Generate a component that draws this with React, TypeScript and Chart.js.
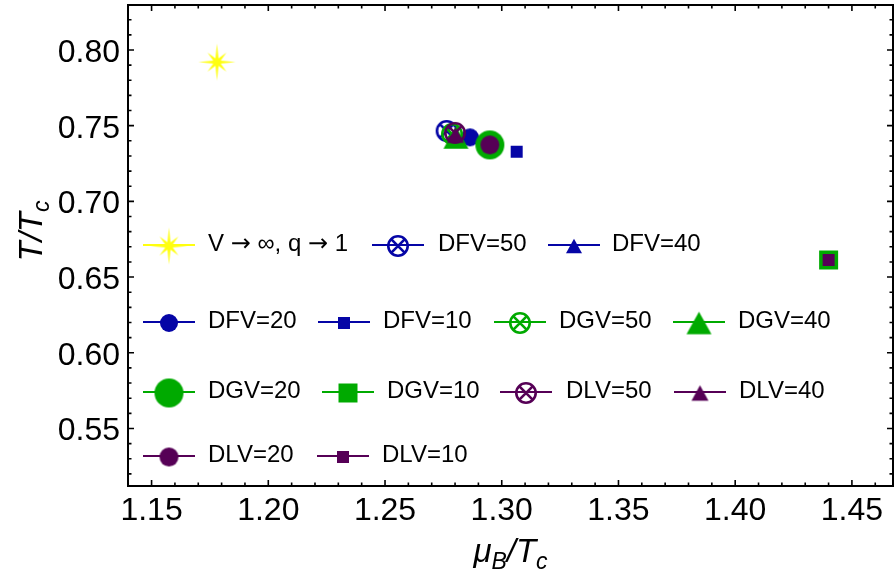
import React, { useEffect, useRef } from "react";
import { Chart, registerables } from "chart.js";

Chart.register(...registerables);

// ---- data ----
const seriesLabels = [
  "V → ∞, q → 1",
  "DFV=50",
  "DFV=40",
  "DFV=20",
  "DFV=10",
  "DGV=50",
  "DGV=40",
  "DGV=20",
  "DGV=10",
  "DLV=50",
  "DLV=40",
  "DLV=20",
  "DLV=10",
];
const muBValues = [1.178, 1.2764, 1.28, 1.2864, 1.3064, 1.2787, 1.2804, 1.2949, 1.44, 1.28, 1.2802, 1.2949, 1.44];
const tValues = [0.792, 0.7465, 0.7425, 0.7423, 0.7328, 0.7445, 0.7422, 0.7373, 0.6613, 0.7452, 0.7438, 0.7373, 0.6613];
const xTickValues = [1.15, 1.2, 1.25, 1.3, 1.35, 1.4, 1.45];
const yTickValues = [0.55, 0.6, 0.65, 0.7, 0.75, 0.8];

// ---- styles ----
const BLUE = "#0505a6";
const GREEN = "#00aa00";
const PURPLE = "#560056";
const YELLOW = "#ffff10";
const seriesColors = [YELLOW, BLUE, BLUE, BLUE, BLUE, GREEN, GREEN, GREEN, GREEN, PURPLE, PURPLE, PURPLE, PURPLE];
const seriesKinds = ["star", "circleX", "triangle", "circle", "square", "circleX", "triangle", "circle", "square", "circleX", "triangle", "circle", "square"];
const seriesSizes = [37, 22, 16, 18, 12, 22, 25, 29, 19, 22, 17, 19, 12];

const FONT = '"Liberation Sans", Arial, sans-serif';

function makeMarker(kind: string, size: number, color: string): HTMLCanvasElement {
  const pad = 4;
  const c = document.createElement("canvas");
  const dim = Math.ceil(size + pad * 2);
  c.width = dim;
  c.height = dim;
  const ctx = c.getContext("2d")!;
  const cx = dim / 2;
  const cy = dim / 2;
  ctx.fillStyle = color;
  ctx.strokeStyle = color;
  if (kind === "circle") {
    ctx.beginPath();
    ctx.arc(cx, cy, size / 2, 0, Math.PI * 2);
    ctx.fill();
  } else if (kind === "square") {
    ctx.fillRect(cx - size / 2, cy - size / 2, size, size);
  } else if (kind === "triangle") {
    const h = size * 0.9;
    ctx.beginPath();
    ctx.moveTo(cx, cy - h / 2);
    ctx.lineTo(cx + size / 2, cy + h / 2);
    ctx.lineTo(cx - size / 2, cy + h / 2);
    ctx.closePath();
    ctx.fill();
  } else if (kind === "circleX") {
    const lw = 2.6;
    const r = size / 2 - lw / 2;
    ctx.lineWidth = lw;
    ctx.beginPath();
    ctx.arc(cx, cy, r, 0, Math.PI * 2);
    ctx.stroke();
    const d = r * Math.SQRT1_2;
    ctx.beginPath();
    ctx.moveTo(cx - d, cy - d);
    ctx.lineTo(cx + d, cy + d);
    ctx.moveTo(cx + d, cy - d);
    ctx.lineTo(cx - d, cy + d);
    ctx.stroke();
  } else if (kind === "star") {
    const rLong = size / 2;
    const rShort = size * 0.36;
    const rIn = size * 0.11;
    ctx.beginPath();
    for (let i = 0; i < 16; i++) {
      const a = (i * Math.PI) / 8 - Math.PI / 2;
      let r: number;
      if (i % 2 === 1) r = rIn;
      else r = (i / 2) % 2 === 0 ? rLong : rShort;
      const x = cx + r * Math.cos(a);
      const y = cy + r * Math.sin(a);
      if (i === 0) ctx.moveTo(x, y);
      else ctx.lineTo(x, y);
    }
    ctx.closePath();
    ctx.fill();
  }
  return c;
}

// legend layout: rows of [dataset index, line start x, text x]
const legendRows: { y: number; items: [number, number, number][] }[] = [
  { y: 245, items: [[0, 143, 208], [1, 372, 438], [2, 548, 612]] },
  { y: 322, items: [[3, 143, 208], [4, 318, 383], [5, 494, 559], [6, 673, 738]] },
  { y: 392, items: [[7, 143, 208], [8, 322, 387], [9, 500, 566], [10, 674, 739]] },
  { y: 456, items: [[11, 143, 208], [12, 317, 382]] },
];

export default function App() {
  const canvasRef = useRef<HTMLCanvasElement | null>(null);

  useEffect(() => {
    document.body.style.margin = "0";
    const canvas = canvasRef.current!;
    const markers = seriesKinds.map((k, i) => makeMarker(k, seriesSizes[i], seriesColors[i]));
    const n = seriesLabels.length;

    const datasets = seriesLabels.map((label, i) => ({
      label,
      data: [{ x: muBValues[i], y: tValues[i] }],
      pointStyle: markers[i] as any,
      pointRadius: seriesSizes[i] / 2,
      backgroundColor: seriesColors[i],
      borderColor: seriesColors[i],
      showLine: false,
      order: n - i,
    }));

    const drawLegendText = (ctx: CanvasRenderingContext2D, text: string, x: number, y: number) => {
      const parts = text.split("→");
      let cx = x;
      parts.forEach((p, idx) => {
        ctx.font = `24px ${FONT}`;
        ctx.fillText(p, cx, y);
        cx += ctx.measureText(p).width;
        if (idx < parts.length - 1) {
          ctx.font = `24px "DejaVu Sans", sans-serif`;
          ctx.fillText("→", cx, y + 1);
          cx += ctx.measureText("→").width;
        }
      });
    };

    const decorPlugin = {
      id: "decor",
      afterDraw(chart: any) {
        const ctx = chart.ctx as CanvasRenderingContext2D;
        const { left, right, top, bottom } = chart.chartArea;
        const xs = chart.scales.x;
        const ys = chart.scales.y;
        ctx.save();
        // ticks
        ctx.strokeStyle = "#000";
        ctx.lineWidth = 1.6;
        ctx.beginPath();
        for (let i = 110; i <= 150; i++) {
          const v = i / 100;
          if (v < xs.min || v > xs.max) continue;
          const px = xs.getPixelForValue(v);
          const len = i % 5 === 0 ? 6 : 3.5;
          ctx.moveTo(px, bottom);
          ctx.lineTo(px, bottom - len);
          ctx.moveTo(px, top);
          ctx.lineTo(px, top + len);
        }
        for (let i = 45; i <= 90; i++) {
          const v = i / 100;
          if (v < ys.min || v > ys.max) continue;
          const py = ys.getPixelForValue(v);
          const len = i % 5 === 0 ? 6 : 3.5;
          ctx.moveTo(left, py);
          ctx.lineTo(left + len, py);
          ctx.moveTo(right, py);
          ctx.lineTo(right - len, py);
        }
        ctx.stroke();
        // frame
        ctx.lineWidth = 2;
        ctx.strokeRect(left, top, right - left, bottom - top);

        // tick labels
        ctx.fillStyle = "#000";
        ctx.font = `32px ${FONT}`;
        ctx.textBaseline = "alphabetic";
        ctx.textAlign = "center";
        for (const v of xTickValues) {
          ctx.fillText(v.toFixed(2), xs.getPixelForValue(v), bottom + 34);
        }
        ctx.textAlign = "right";
        for (const v of yTickValues) {
          ctx.fillText(v.toFixed(2), left - 8, ys.getPixelForValue(v) + 12);
        }

        // axis titles
        const big = `italic 33px ${FONT}`;
        const small = `italic 23px ${FONT}`;
        const drawTitle = (parts: [string, boolean][], cx: number, baseY: number) => {
          let w = 0;
          for (const [t, sub] of parts) {
            ctx.font = sub ? small : big;
            w += ctx.measureText(t).width;
          }
          let x = cx - w / 2;
          ctx.textAlign = "left";
          ctx.textBaseline = "alphabetic";
          for (const [t, sub] of parts) {
            ctx.font = sub ? small : big;
            ctx.fillText(t, x, baseY + (sub ? 7 : 0));
            x += ctx.measureText(t).width;
          }
        };
        drawTitle([["μ", false], ["B", true], ["/", false], ["T", false], ["c", true]], (left + right) / 2, 562);
        ctx.save();
        ctx.translate(42, 231);
        ctx.rotate(-Math.PI / 2);
        drawTitle([["T", false], ["/", false], ["T", false], ["c", true]], 0, 0);
        ctx.restore();

        // legend
        ctx.textAlign = "left";
        ctx.textBaseline = "middle";
        for (const row of legendRows) {
          for (const [di, lx, tx] of row.items) {
            const col = seriesColors[di];
            ctx.strokeStyle = col;
            ctx.lineWidth = 2;
            ctx.beginPath();
            ctx.moveTo(lx, row.y);
            ctx.lineTo(lx + 52, row.y);
            ctx.stroke();
            const m = markers[di];
            ctx.drawImage(m, lx + 26 - m.width / 2, row.y + 1 - m.height / 2);
            ctx.fillStyle = "#000";
            drawLegendText(ctx, chart.data.datasets[di].label, tx, row.y - 1);
          }
        }
        ctx.restore();
      },
    };

    const chart = new Chart(canvas, {
      type: "scatter",
      data: { datasets },
      options: {
        animation: false,
        responsive: false,
        maintainAspectRatio: false,
        layout: { autoPadding: false, padding: { top: 5, right: 3, left: 0, bottom: 0 } },
        plugins: { legend: { display: false }, tooltip: { enabled: false } },
        scales: {
          x: {
            type: "linear",
            min: 1.1399,
            max: 1.4676,
            grid: { display: false, drawTicks: false },
            border: { display: false },
            ticks: { display: false },
            afterBuildTicks: (s: any) => {
              s.ticks = xTickValues.map((v) => ({ value: v }));
            },
            afterFit: (s: any) => {
              s.height = 97;
            },
          },
          y: {
            type: "linear",
            min: 0.512,
            max: 0.8297,
            grid: { display: false, drawTicks: false },
            border: { display: false },
            ticks: { display: false },
            afterBuildTicks: (s: any) => {
              s.ticks = yTickValues.map((v) => ({ value: v }));
            },
            afterFit: (s: any) => {
              s.width = 128;
            },
          },
        },
      } as any,
      plugins: [decorPlugin],
    });
    return () => chart.destroy();
  }, []);

  return (
    <div style={{ width: 896, height: 583, background: "#fff" }}>
      <canvas ref={canvasRef} width={896} height={583} style={{ display: "block" }} />
    </div>
  );
}
